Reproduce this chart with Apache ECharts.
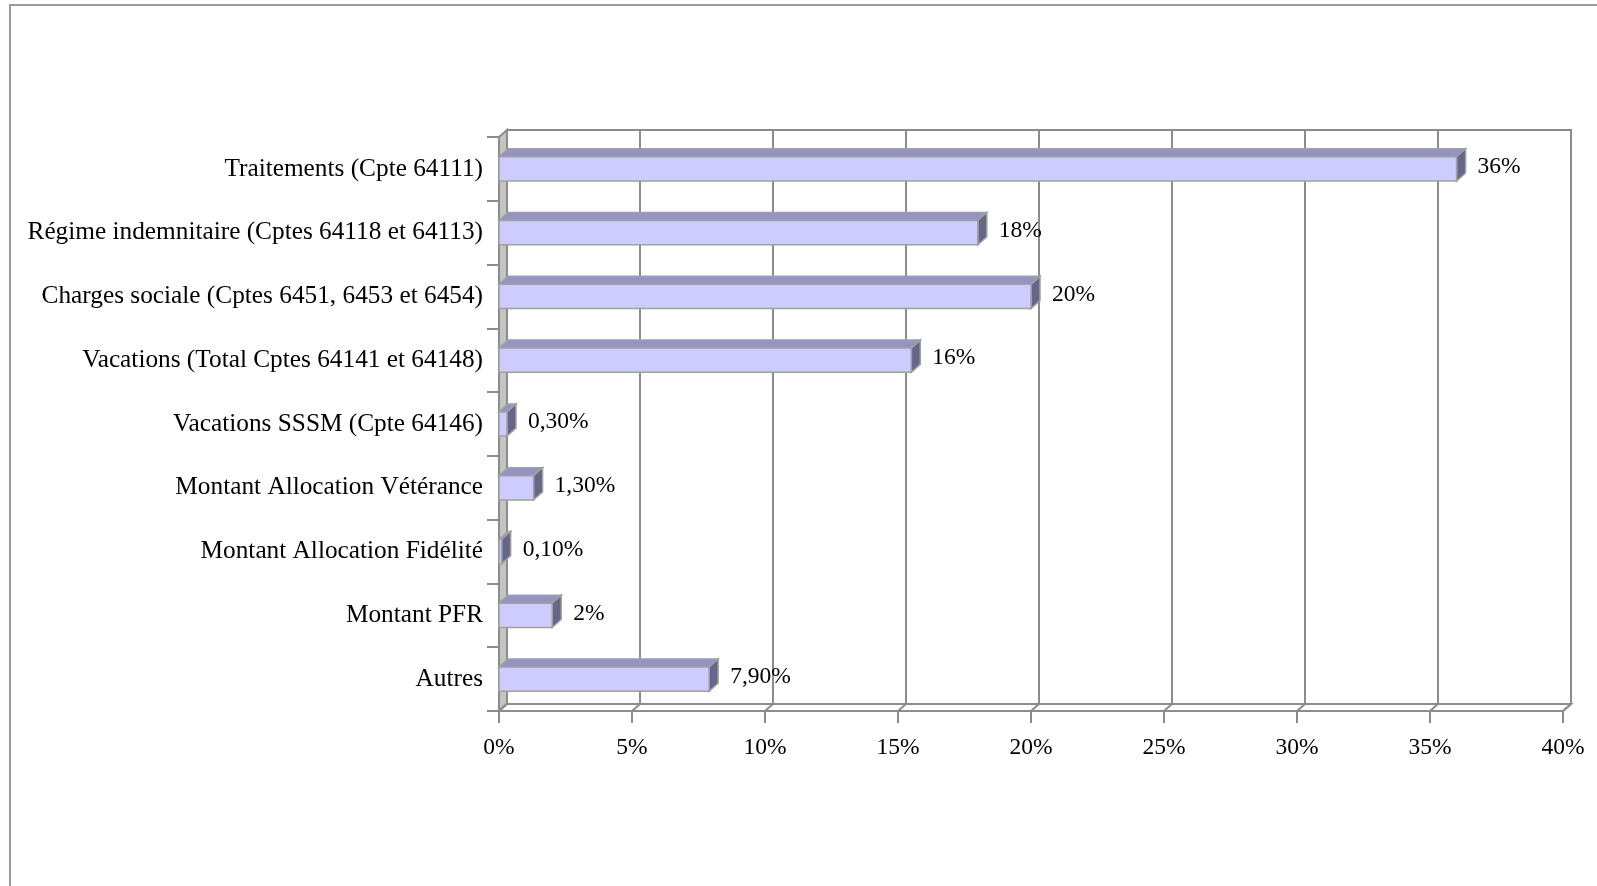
<!DOCTYPE html>
<html>
<head>
<meta charset="utf-8">
<script src="https://cdn.jsdelivr.net/npm/echarts@6/dist/echarts.min.js"></script>
<style>
html,body{margin:0;padding:0;background:#fff;}
#chart{width:1597px;height:886px;}
</style>
</head>
<body>
<div id="chart"></div>
<script>
// ---- data ----
const categories = [
  'Traitements (Cpte 64111)',
  'Régime indemnitaire (Cptes 64118 et 64113)',
  'Charges sociale (Cptes 6451, 6453 et 6454)',
  'Vacations (Total Cptes 64141 et 64148)',
  'Vacations SSSM (Cpte 64146)',
  'Montant Allocation Vétérance',
  'Montant Allocation Fidélité',
  'Montant PFR',
  'Autres'
];
const values = [36, 18, 20, 15.5, 0.3, 1.3, 0.1, 2, 7.9];
const valueLabels = ['36%', '18%', '20%', '16%', '0,30%', '1,30%', '0,10%', '2%', '7,90%'];
const xMin = 0, xMax = 40, xStep = 5;

// ---- style ----
const FONT = 'Liberation Serif';
const GRID_COLOR = '#8c8c8c';
const WALL_DX = 8, WALL_DY = -7;
const BAR_DX = 9, BAR_DY = -8;

const chart = echarts.init(document.getElementById('chart'), null, {renderer: 'canvas'});

const tickValues = [];
for (let v = xMin; v <= xMax; v += xStep) tickValues.push(v);

function renderWalls(params, api) {
  const cs = params.coordSys;
  const x = cs.x, y = cs.y, w = cs.width, h = cs.height;
  const children = [];
  children.push({
    type: 'polygon',
    shape: {points: [[x, y], [x + WALL_DX, y + WALL_DY], [x + WALL_DX, y + h + WALL_DY], [x, y + h]]},
    style: {fill: '#c4c4c4', stroke: GRID_COLOR, lineWidth: 2}
  });
  children.push({
    type: 'polygon',
    shape: {points: [[x, y + h], [x + WALL_DX, y + h + WALL_DY], [x + w + WALL_DX, y + h + WALL_DY], [x + w, y + h]]},
    style: {fill: '#ffffff', stroke: GRID_COLOR, lineWidth: 2}
  });
  tickValues.forEach(function (v) {
    const p = api.coord([v, 0]);
    children.push({
      type: 'line',
      shape: {x1: p[0], y1: y + h, x2: p[0] + WALL_DX, y2: y + h + WALL_DY},
      style: {stroke: GRID_COLOR, lineWidth: 2}
    });
  });
  return {type: 'group', children: children};
}

function renderBar(params, api) {
  const idx = api.value(0);
  const val = api.value(1);
  const start = api.coord([0, idx]);
  const end = api.coord([val, idx]);
  const band = api.size([0, 1])[1];
  const h = band * 0.38;
  const x0 = start[0], x1 = end[0];
  const y0 = end[1] - h / 2;
  const border = {stroke: '#a0a0a0', lineWidth: 1.5};
  return {
    type: 'group',
    children: [
      {
        type: 'polygon',
        shape: {points: [[x0, y0], [x0 + BAR_DX, y0 + BAR_DY], [x1 + BAR_DX, y0 + BAR_DY], [x1, y0]]},
        style: Object.assign({fill: '#9494c2'}, border)
      },
      {
        type: 'polygon',
        shape: {points: [[x1, y0], [x1 + BAR_DX, y0 + BAR_DY], [x1 + BAR_DX, y0 + h + BAR_DY], [x1, y0 + h]]},
        style: Object.assign({fill: '#66668a'}, border)
      },
      {
        type: 'rect',
        shape: {x: x0, y: y0, width: Math.max(x1 - x0, 0), height: h},
        style: Object.assign({fill: '#ccccff'}, border)
      },
      {
        type: 'text',
        style: {
          text: valueLabels[idx],
          x: x1 + BAR_DX + 12,
          y: y0 + h / 2 + BAR_DY / 2 + 2,
          align: 'left',
          verticalAlign: 'middle',
          fontFamily: FONT,
          fontSize: 23.5,
          fill: '#000'
        }
      }
    ]
  };
}

const barData = values.map(function (v, i) { return [i, v]; });

const option = {
  animation: false,
  backgroundColor: '#ffffff',
  graphic: [{
    type: 'rect',
    shape: {x: 10, y: 5, width: 2000, height: 2000},
    style: {fill: 'none', stroke: '#9a9a9a', lineWidth: 2},
    z: 0
  }],
  grid: [
    {left: 507, top: 130, right: 26, bottom: 182, show: true, borderColor: GRID_COLOR, borderWidth: 2, backgroundColor: 'transparent'},
    {left: 499, top: 137, right: 34, bottom: 175}
  ],
  xAxis: [
    {
      gridIndex: 0, type: 'value', min: xMin, max: xMax, interval: xStep,
      axisLine: {show: false}, axisTick: {show: false}, axisLabel: {show: false},
      splitLine: {show: true, lineStyle: {color: GRID_COLOR, width: 2}}
    },
    {
      gridIndex: 1, type: 'value', min: xMin, max: xMax, interval: xStep,
      axisLine: {show: true, onZero: false, lineStyle: {color: GRID_COLOR, width: 2}},
      axisTick: {show: true, length: 12, lineStyle: {color: GRID_COLOR, width: 2}},
      axisLabel: {formatter: '{value}%', fontFamily: FONT, fontSize: 23.5, color: '#000', margin: 25},
      splitLine: {show: false}
    }
  ],
  yAxis: [
    {
      gridIndex: 0, type: 'category', data: categories, inverse: true,
      axisLine: {show: false}, axisTick: {show: false}, axisLabel: {show: false}, splitLine: {show: false}
    },
    {
      gridIndex: 1, type: 'category', data: categories, inverse: true,
      axisLine: {show: true, onZero: false, lineStyle: {color: GRID_COLOR, width: 2}},
      axisTick: {show: true, length: 12, lineStyle: {color: GRID_COLOR, width: 2}},
      axisLabel: {fontFamily: FONT, fontSize: 25.3, color: '#000', margin: 16, padding: [6, 0, 0, 0]},
      splitLine: {show: false}
    }
  ],
  series: [
    {
      type: 'custom', name: 'walls', xAxisIndex: 1, yAxisIndex: 1,
      renderItem: renderWalls, data: [[0, 0]], z: 2, silent: true
    },
    {
      type: 'custom', name: 'bars', xAxisIndex: 1, yAxisIndex: 1,
      renderItem: renderBar, data: barData, z: 3,
      encode: {x: 1, y: 0}
    }
  ]
};
chart.setOption(option);
</script>
</body>
</html>
